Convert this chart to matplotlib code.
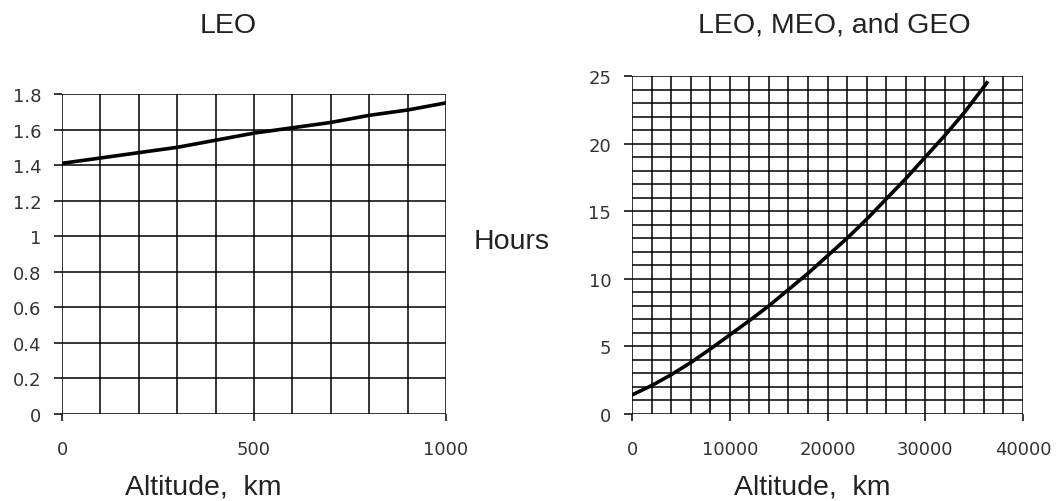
import numpy as np
import matplotlib.pyplot as plt

plt.rcParams['font.family'] = ['Liberation Sans', 'DejaVu Sans']

# LEO: orbital period (hours) vs altitude (km)
leo_alt = [0, 100, 200, 300, 400, 500, 600, 700, 800, 900, 1000]
leo_hours = [1.41, 1.44, 1.47, 1.50, 1.54, 1.58, 1.61, 1.64, 1.68, 1.71, 1.75]
leo_yticks = [0, 0.2, 0.4, 0.6, 0.8, 1, 1.2, 1.4, 1.6, 1.8]
leo_ylabels = ['0', '0.2', '0.4', '0.6', '0.8', '1', '1.2', '1.4', '1.6', '1.8']
leo_xticks = [0, 500, 1000]

# LEO, MEO and GEO
all_alt = [0, 2000, 4000, 6000, 8000, 10000, 12000, 14000, 16000, 18000,
           20000, 22000, 24000, 26000, 28000, 30000, 32000, 34000, 36000, 36300]
all_hours = [1.41, 2.1, 2.9, 3.8, 4.8, 5.85, 6.9, 8.0, 9.2, 10.4,
             11.7, 13.0, 14.4, 15.9, 17.4, 19.0, 20.6, 22.3, 24.2, 24.5]
all_yticks = [0, 5, 10, 15, 20, 25]
all_xticks = [0, 10000, 20000, 30000, 40000]

W, H = 1059, 502
fig = plt.figure(figsize=(W / 100, H / 100), dpi=100)

def box(x0, x1, ytop, ybot):
    # pixel box -> figure fraction
    return [x0 / W, 1 - ybot / H, (x1 - x0) / W, (ybot - ytop) / H]

ax1 = fig.add_axes(box(62, 446, 95, 415))
ax2 = fig.add_axes(box(632, 1023, 77, 415))

def style(ax, xmax, ymax, xminor, yminor):
    ax.set_xlim(0, xmax)
    ax.set_ylim(0, ymax)
    ax.set_xticks(np.arange(0, xmax + xminor / 2, xminor), minor=True)
    ax.set_yticks(np.arange(0, ymax + yminor / 2, yminor), minor=True)
    ax.grid(True, which='both', color='black', linewidth=1.1)
    for s in ax.spines.values():
        s.set_visible(False)
    ax.tick_params(which='minor', length=0)
    ax.tick_params(axis='y', which='major', length=6, width=1.1, pad=9)
    ax.tick_params(axis='x', which='major', length=5, width=1.1, pad=14)
    for lab in ax.get_xticklabels() + ax.get_yticklabels():
        lab.set_fontfamily('DejaVu Sans')
        lab.set_fontsize(13)
        lab.set_color('#333333')

# left panel
ax1.plot(leo_alt, leo_hours, color='black', linewidth=2.6)
ax1.set_yticks(leo_yticks)
ax1.set_yticklabels(leo_ylabels)
ax1.set_xticks(leo_xticks)
style(ax1, 1000, 1.8, 100, 0.2)

# right panel
ax2.plot(all_alt, all_hours, color='black', linewidth=2.6)
ax2.set_yticks(all_yticks)
ax2.set_xticks(all_xticks)
style(ax2, 40000, 25, 2000, 1)

# titles and labels
fig.text(228 / W, 1 - 26 / H, 'LEO', fontsize=20.5, ha='center', va='center', color='#222222')
fig.text(834 / W, 1 - 26 / H, 'LEO, MEO, and GEO', fontsize=20.5, ha='center', va='center', color='#222222')
fig.text(203 / W, 1 - 488 / H, 'Altitude,  km', fontsize=20.5, ha='center', va='center', color='#222222')
fig.text(812 / W, 1 - 488 / H, 'Altitude,  km', fontsize=20.5, ha='center', va='center', color='#222222')
fig.text(512 / W, 1 - 242 / H, 'Hours', fontsize=20.5, ha='center', va='center', color='#222222')

fig.savefig('out.png', dpi=100)
